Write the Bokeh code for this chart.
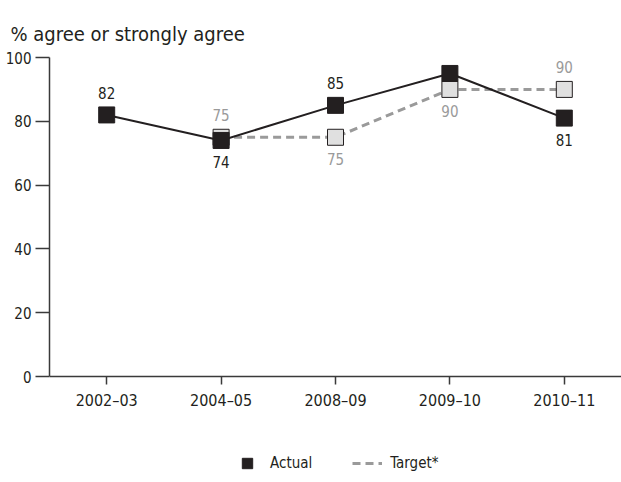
from bokeh.plotting import figure
from bokeh.models import ColumnDataSource, FactorRange, FixedTicker, Legend, LegendItem
from bokeh.core.properties import value
from bokeh.embed import file_html
from bokeh.resources import INLINE

# Survey results: share of respondents who agree or strongly agree
periods = ["2002–03", "2004–05", "2008–09", "2009–10", "2010–11"]
actual = [82, 74, 85, 95, 81]
target = [None, 75, 75, 90, 90]
y_ticks = [0, 20, 40, 60, 80, 100]

FONT = "DejaVu Sans Condensed"
INK = "#231f20"
GREY = "#9a9a9a"
PALE = "#e0e0e0"

# the frame runs to the bottom of the page so the key can sit inside it;
# the category axis is pinned at zero
p = figure(
    width=621, height=482,
    x_range=FactorRange(factors=periods, range_padding=0),
    y_range=(-33.2, 100),
    output_backend="svg", toolbar_location=None,
    min_border_left=49, min_border_right=0,
    min_border_top=57, min_border_bottom=0,
)
p.outline_line_color = None
p.grid.visible = False
p.background_fill_color = "white"
p.border_fill_color = "white"

p.title.text = "% agree or strongly agree"
p.title.text_font = FONT
p.title.text_font_size = "20px"
p.title.text_font_style = "normal"
p.title.text_color = INK
p.title.align = "left"
p.title.offset = -39
p.title.standoff = 24

# axes
p.yaxis.ticker = FixedTicker(ticks=y_ticks)
p.yaxis.bounds = (0, 100)
p.yaxis.minor_tick_line_color = None
p.yaxis.major_tick_in = 0
p.yaxis.major_tick_out = 14
p.yaxis.major_label_standoff = 4
p.yaxis.major_label_text_font = FONT
p.yaxis.major_label_text_font_size = "15px"
p.yaxis.major_label_text_color = INK

p.xaxis.fixed_location = 0
p.xaxis.major_tick_in = 0
p.xaxis.major_tick_out = 8
p.xaxis.major_label_standoff = 6
p.xaxis.major_label_text_font = FONT
p.xaxis.major_label_text_font_size = "16px"
p.xaxis.major_label_text_color = INK

for ax in (p.xaxis, p.yaxis):
    ax.axis_line_color = "#3a3a3a"
    ax.axis_line_width = 1.5
    ax.major_tick_line_color = "#3a3a3a"
    ax.major_tick_line_width = 1.5

# label placement: the higher of the two values gets its label above
act_above = [t is None or a >= t for a, t in zip(actual, target)]

t_idx = [i for i, t in enumerate(target) if t is not None]
tgt_src = ColumnDataSource(dict(
    x=[periods[i] for i in t_idx],
    y=[target[i] for i in t_idx],
    label=[str(target[i]) for i in t_idx],
    off=[22 if act_above[i] else -22 for i in t_idx],
))
act_src = ColumnDataSource(dict(
    x=periods,
    y=actual,
    label=[str(a) for a in actual],
    off=[-22 if up else 22 for up in act_above],
))

tgt_line = p.line("x", "y", source=tgt_src, line_color=GREY, line_width=3,
                  line_dash="8 5")
p.scatter("x", "y", source=tgt_src, marker="square", size=16,
          fill_color=PALE, line_color=INK, line_width=1)

p.line("x", "y", source=act_src, line_color=INK, line_width=2)
act_pts = p.scatter("x", "y", source=act_src, marker="square", size=16,
                    fill_color=INK, line_color=INK)

p.text("x", "y", text="label", source=tgt_src, y_offset="off",
       text_align="center", text_baseline="middle",
       text_font=value(FONT), text_font_size="15px", text_color=GREY)
p.text("x", "y", text="label", source=act_src, y_offset="off",
       text_align="center", text_baseline="middle",
       text_font=value(FONT), text_font_size="15px", text_color=INK)

legend = Legend(
    items=[LegendItem(label="Actual", renderers=[act_pts]),
           LegendItem(label="Target*", renderers=[tgt_line])],
    orientation="horizontal", location=(183, 6),
    border_line_color=None, background_fill_alpha=0,
    label_text_font=FONT, label_text_font_size="15px", label_text_color=INK,
    glyph_width=30, glyph_height=26, label_standoff=8, spacing=40,
    margin=0, padding=0,
)
p.add_layout(legend)

open("out.html", "w").write(file_html(p, INLINE))
